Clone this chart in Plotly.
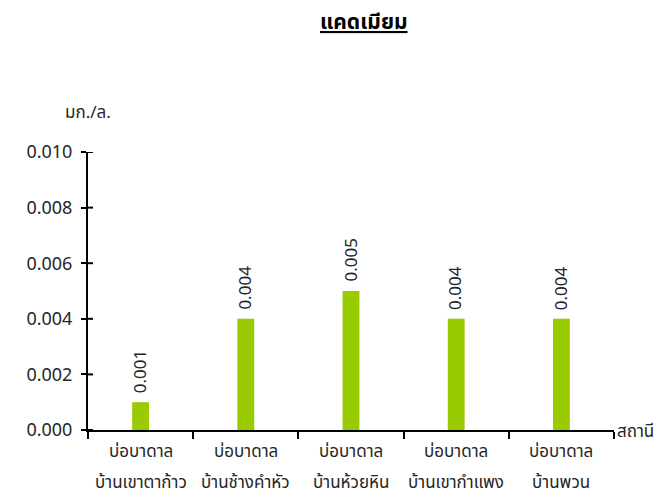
import plotly.graph_objects as go

line1 = ["บ่อบาดาล", "บ่อบาดาล", "บ่อบาดาล", "บ่อบาดาล", "บ่อบาดาล"]
line2 = ["บ้านเขาตาก้าว", "บ้านช้างคำหัว", "บ้านห้วยหิน", "บ้านเขากำแพง", "บ้านพวน"]
stations = [a + " " + b for a, b in zip(line1, line2)]
cadmium = [0.001, 0.004, 0.005, 0.004, 0.004]
labels = ["0.001", "0.004", "0.005", "0.004", "0.004"]
y_ticks = [0.000, 0.002, 0.004, 0.006, 0.008, 0.010]
y_tick_text = ["0.000", "0.002", "0.004", "0.006", "0.008", "0.010"]

FONT = "Noto Sans Thai, Tahoma, Noto Sans, DejaVu Sans, sans-serif"
TXT = "#262626"

OFF = 8  # page body margin
W, H = 663 - OFF, 499 - OFF
L, R, T, B = 88 - OFF, 663 - 614, 152 - OFF, 499 - 430
PW, PH = W - L - R, H - T - B

def px(x):
    return (x - OFF - L) / PW

def py(y):
    return (H - B - (y - OFF)) / PH

fig = go.Figure()
fig.add_trace(go.Bar(
    x=stations, y=cadmium,
    marker=dict(color="#99CC00", line=dict(width=0)), width=0.16,
))

fig.update_layout(
    width=W, height=H,
    margin=dict(l=L, r=R, t=T, b=B),
    plot_bgcolor="white", paper_bgcolor="white",
    font=dict(family=FONT, size=16, color=TXT),
    showlegend=False,
    xaxis=dict(showline=True, linecolor="black", linewidth=2, ticks="outside",
               tickson="boundaries", ticklen=7, tickwidth=2, tickcolor="black",
               showticklabels=False, showgrid=False, automargin=False),
    yaxis=dict(range=[0, 0.010], tickvals=y_ticks, ticktext=y_tick_text,
               showline=True, linecolor="black", linewidth=2, ticks="outside",
               ticklen=5, tickwidth=2, tickcolor="black", showgrid=False,
               zeroline=False, tickfont=dict(size=18, color=TXT),
               ticklabelstandoff=5, automargin=False),
)

# inner half of crossing y ticks
for v in y_ticks:
    fig.add_shape(type="line", xref="paper", yref="y", xsizemode="pixel", xanchor=0,
                  x0=0, x1=5, y0=v, y1=v, line=dict(color="black", width=2))

# value labels above bars
for s, v, t in zip(stations, cadmium, labels):
    fig.add_annotation(text=t, x=s, y=v, xref="x", yref="y", showarrow=False,
                       textangle=-90, xanchor="center", yanchor="bottom", yshift=7,
                       font=dict(size=17, color=TXT))

for s, a, b in zip(stations, line1, line2):
    fig.add_annotation(text=a, x=s, xref="x", yref="paper", y=py(452), showarrow=False,
                       font=dict(size=17), xanchor="center", yanchor="middle")
    fig.add_annotation(text=b, x=s, xref="x", yref="paper", y=py(483), showarrow=False,
                       font=dict(size=17), xanchor="center", yanchor="middle")

fig.add_annotation(text="<b><u>แคดเมียม</u></b>", xref="paper", yref="paper",
                   x=px(364), y=py(22), showarrow=False,
                   font=dict(size=21, color="black"), xanchor="center", yanchor="middle")
fig.add_annotation(text="มก./ล.", xref="paper", yref="paper",
                   x=px(63), y=py(113), showarrow=False,
                   font=dict(size=17), xanchor="left", yanchor="middle")
fig.add_annotation(text="สถานี", xref="paper", yref="paper",
                   x=px(615), y=py(432), showarrow=False,
                   font=dict(size=17), xanchor="left", yanchor="middle")

fig.write_html("out.html")
